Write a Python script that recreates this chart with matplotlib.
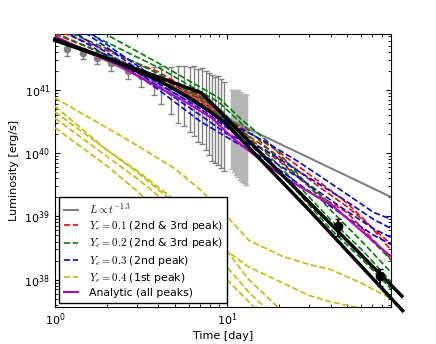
import numpy as np
import matplotlib
matplotlib.use("Agg")
import matplotlib.pyplot as plt

plt.rcParams['mathtext.fontset'] = 'cm'
plt.rcParams['font.family'] = ['DejaVu Sans']

# observed bolometric points (time in days, log10 L, errors in dex)
t_obs = [1.17, 1.46, 1.76, 2.11, 2.65, 3.16, 3.77, 4.15, 4.75, 5.22, 5.66, 6.06, 6.40, 6.75,
         7.13, 7.52, 7.84, 8.16, 8.50, 8.85, 9.22, 9.6]
logL_obs = [41.64, 41.58, 41.50, 41.42, 41.30, 41.22, 41.16, 41.12, 41.06, 41.02, 40.98, 40.94,
            40.92, 40.88, 40.85, 40.80, 40.77, 40.73, 40.70, 40.66, 40.62, 40.57]
err_hi = [0.08, 0.08, 0.1, 0.1, 0.13, 0.15, 0.2, 0.25, 0.3, 0.35, 0.4, 0.42, 0.45, 0.45,
          0.5, 0.5, 0.5, 0.5, 0.5, 0.55, 0.55, 0.55]
err_lo = [0.1, 0.1, 0.1, 0.12, 0.13, 0.18, 0.25, 0.35, 0.45, 0.55, 0.55, 0.6, 0.65, 0.7,
          0.7, 0.75, 0.8, 0.85, 0.85, 0.85, 0.85, 0.85]

# late cluster of points (light grey band)
t_band = [10.7, 11.0, 11.3, 11.6, 11.9, 12.2, 12.5, 12.9]
logL_band = [40.45, 40.42, 40.40, 40.37, 40.34, 40.30, 40.27, 40.23]
band_hi = [0.55, 0.57, 0.6, 0.62, 0.62, 0.64, 0.66, 0.68]
band_lo = [0.7, 0.72, 0.75, 0.75, 0.76, 0.76, 0.75, 0.74]

# late black points
t_late = [44.4, 78.1]
logL_late = [38.84, 38.05]

# power law reference
t_pl = [1.0, 90.0]
logL_pl = [41.845, 39.305]

# thick black fits
t_fitA = [1.0, 7.1, 104.0]
logL_fitA = [41.80, 40.95, 37.74]
t_fitB = [1, 2, 4, 6, 8, 10, 15, 30, 105]
logL_fitB = [41.78, 41.5, 41.15, 40.88, 40.65, 40.45, 39.95, 39.1, 37.51]

# Ye = 0.1 models
t_red = [1, 2, 4, 7, 10, 20, 35, 50, 68, 91]
red_models = [
    [41.88, 41.55, 41.2, 40.85, 40.5, 39.95, 39.45, 39.15, 38.85, 38.55],
    [41.78, 41.47, 41.13, 40.8, 40.47, 39.88, 39.31, 39.06, 38.68, 38.31],
    [41.95, 41.62, 41.28, 40.9, 40.55, 40.02, 39.53, 39.21, 38.85, 38.45],
]

# Ye = 0.2 models
t_green = [1, 2, 4, 9, 11.8, 17.6, 21, 40, 62, 91]
green_models = [
    [42.3, 41.87, 41.42, 40.87, 40.56, 40.16, 39.94, 39.1, 38.58, 38.1],
    [42.0, 41.65, 41.25, 40.7, 40.4, 39.95, 39.75, 38.95, 38.45, 37.95],
    [41.9, 41.55, 41.15, 40.6, 40.3, 39.85, 39.65, 38.8, 38.3, 37.84],
    [42.15, 41.75, 41.35, 40.8, 40.5, 40.05, 39.85, 39.2, 38.75, 38.3],
]

# Ye = 0.3 models
t_blue = [1, 1.6, 2.76, 4, 7, 10, 16.7, 26.5, 45.6, 71.5, 91]
blue_models = [
    [42.3, 41.9, 41.45, 41.15, 40.75, 40.5, 40.18, 39.85, 39.42, 39.06, 38.95],
    [42.2, 41.85, 41.4, 41.1, 40.7, 40.4, 39.95, 39.6, 39.15, 38.8, 38.66],
    [42.1, 41.75, 41.35, 41.05, 40.6, 40.3, 40.05, 39.7, 39.3, 38.95, 38.8],
    [42.0, 41.7, 41.3, 41.0, 40.5, 40.25, 39.9, 39.5, 39.05, 38.7, 38.55],
]

# Ye = 0.4 models
t_yel = [1, 2, 3, 5, 7, 10, 13.4, 21, 30, 40, 60, 90]
yel_models = [
    [40.87, 40.4, 40.12, 39.75, 39.42, 39.0, 38.62, 38.37, 38.24, 38.16, 37.95, 37.7],
    [40.74, 40.05, 39.7, 39.2, 38.85, 38.45, 38.2, 37.95, 37.75, 37.65, 37.55, 37.4],
    [40.65, 40.05, 39.72, 39.25, 38.9, 38.45, 38.0, 37.5, 37.1, 36.8, 36.5, 36.2],
    [40.55, 39.95, 39.6, 39.1, 38.7, 38.2, 37.8, 37.3, 36.9, 36.6, 36.3, 36.0],
    [40.4, 39.8, 39.4, 38.85, 38.45, 38.0, 37.65, 37.1, 36.7, 36.4, 36.1, 35.8],
]

# analytic model
t_an = [1, 2.3, 3.9, 5.4, 8.2, 11.2, 18.4, 22, 41.5, 78.6, 90]
logL_an = [41.84, 41.4, 41.05, 40.85, 40.55, 40.2, 39.75, 39.6, 39.16, 38.5, 38.37]


def L(v):
    return 10 ** np.array(v)


fig = plt.figure(figsize=(4.36, 3.44), dpi=100)
ax = fig.add_axes([0.126, 0.108, 0.771, 0.793])

ax.errorbar(t_obs, L(logL_obs),
            yerr=[L(logL_obs) - L(np.array(logL_obs) - err_lo), L(np.array(logL_obs) + err_hi) - L(logL_obs)],
            fmt='o', color='gray', ms=4.5, capsize=2, lw=1, zorder=1)
ax.errorbar(t_band, L(logL_band),
            yerr=[L(logL_band) - L(np.array(logL_band) - band_lo), L(np.array(logL_band) + band_hi) - L(logL_band)],
            fmt='none', ecolor='#b5b5b5', capsize=2, lw=2.5, zorder=1)

ax.plot(t_pl, L(logL_pl), color='gray', lw=1.5, label=r'$L \propto t^{-1.3}$', zorder=2)

for i, m in enumerate(red_models):
    ax.plot(t_red, L(m), 'r--', lw=1.2, label=r'$Y_e = 0.1$ (2nd & 3rd peak)' if i == 0 else None, zorder=3)
for i, m in enumerate(green_models):
    ax.plot(t_green, L(m), color='g', ls='--', lw=1.2, label=r'$Y_e = 0.2$ (2nd & 3rd peak)' if i == 0 else None, zorder=3)
for i, m in enumerate(blue_models):
    ax.plot(t_blue, L(m), 'b--', lw=1.2, label=r'$Y_e = 0.3$ (2nd peak)' if i == 0 else None, zorder=3)
for i, m in enumerate(yel_models):
    ax.plot(t_yel, L(m), color='#bfbf00', ls='--', lw=1.2, label=r'$Y_e = 0.4$ (1st peak)' if i == 0 else None, zorder=3)

ax.plot(t_an, L(logL_an), color='m', lw=1.5, label='Analytic (all peaks)', zorder=4)

ax.plot(t_fitA, L(logL_fitA), 'k-', lw=2.5, zorder=5, clip_on=False)
ax.plot(t_fitB, L(logL_fitB), 'k-', lw=2.5, zorder=5, clip_on=False)
ax.errorbar(t_late, L(logL_late), yerr=[L(logL_late) * 0.3, L(logL_late) * 0.3],
            fmt='o', color='k', ms=6, capsize=2, zorder=6)

ax.set_xscale('log')
ax.set_yscale('log')
ax.set_xlim(1, 90)
ax.set_ylim(10 ** 37.57, 10 ** 41.88)
ax.set_xlabel('Time [day]', fontsize=8, labelpad=2)
ax.set_ylabel('Luminosity [erg/s]', fontsize=8)
ax.tick_params(which='both', direction='in', top=True, right=True, labelsize=8)
ax.set_yticks([1e38, 1e39, 1e40, 1e41])

leg = ax.legend(loc='lower left', fontsize=7.8, handlelength=1.3, handletextpad=1.0,
                labelspacing=0.3, fancybox=False, framealpha=1, edgecolor='black',
                borderaxespad=0.4)
leg.get_frame().set_linewidth(1.0)

plt.savefig('out.png', dpi=100)
